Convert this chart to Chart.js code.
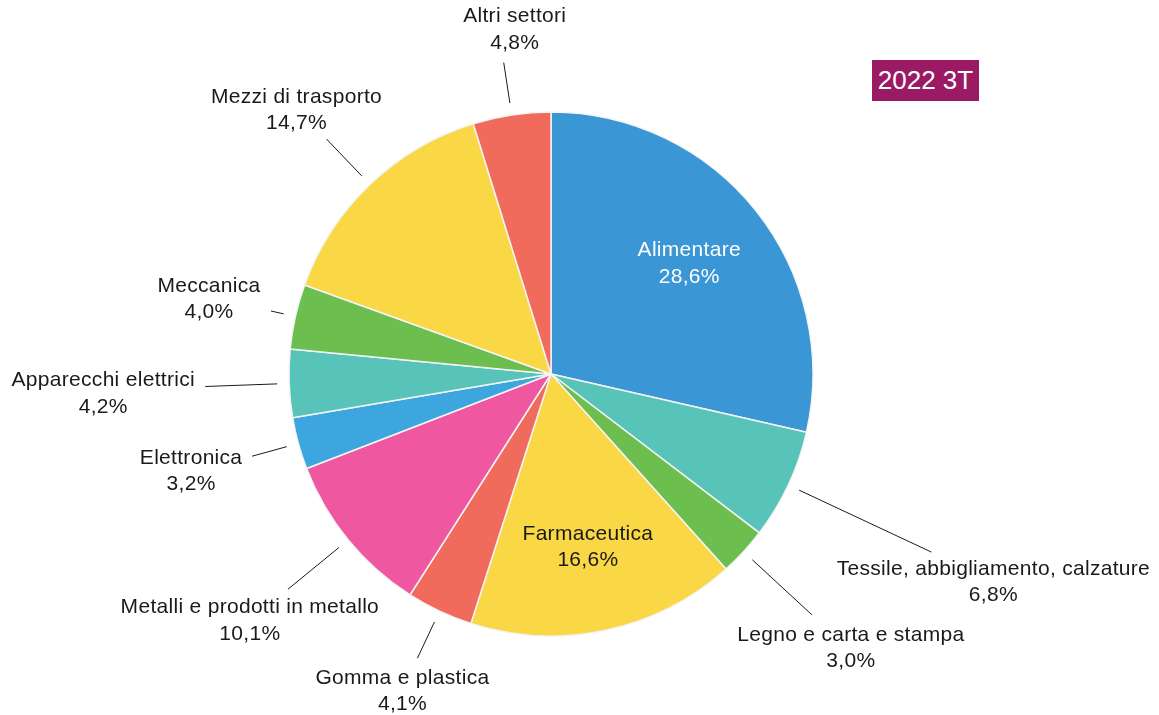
<!DOCTYPE html>
<html>
<head>
<meta charset="utf-8">
<script src="https://cdn.jsdelivr.net/npm/chart.js@4"></script>
<style>
  html, body { margin: 0; padding: 0; background: #fff; }
  #wrap { position: relative; width: 1159px; height: 715px; }
  #badge {
    position: absolute; left: 872px; top: 60px; width: 107px; height: 41px;
    background: #9a1b63; color: #fff; font: 26px "Liberation Sans", Arial, sans-serif;
    line-height: 41px; text-align: center;
  }
</style>
</head>
<body>
<div id="wrap">
  <canvas id="chart" width="1159" height="715"></canvas>
  <div id="badge">2022 3T</div>
</div>
<script>
// Data
const sectors = ['Alimentare', 'Tessile, abbigliamento, calzature', 'Legno e carta e stampa', 'Farmaceutica',
  'Gomma e plastica', 'Metalli e prodotti in metallo', 'Elettronica', 'Apparecchi elettrici',
  'Meccanica', 'Mezzi di trasporto', 'Altri settori'];
const shares = [28.6, 6.8, 3.0, 16.6, 4.1, 10.1, 3.2, 4.2, 4.0, 14.7, 4.8];
const colors = ['#3a96d4', '#58c4b9', '#6cbf4e', '#f9d745', '#f06b5b', '#ef58a0', '#3ea6de', '#58c4b9',
  '#6cbf4e', '#f9d745', '#f06b5b'];

// Label layout: inside slice, or leader line length + text offset from the line end
const labelLayout = [
  {inside: true, color: '#ffffff'},
  {len: 146, dx: 62, dy: 17},
  {len: 81, dx: 39, dy: 20},
  {inside: true, color: '#1a1a1a'},
  {len: 40, dx: -15, dy: 20},
  {len: 66, dx: -38, dy: 18},
  {len: 36, dx: -61, dy: 2},
  {len: 72, dx: -102, dy: -6},
  {len: 13, dx: -62, dy: -25},
  {len: 51, dx: -30, dy: -42},
  {len: 41, dx: 11, dy: -46}
];

const FONT = '21px "Liberation Sans", Arial, sans-serif';
const LINE_H = 26.5;
const fmt = v => v.toFixed(1).replace('.', ',') + '%';

const pieLabels = {
  id: 'pieLabels',
  afterDatasetsDraw(chart){
    const ctx = chart.ctx;
    const arcs = chart.getDatasetMeta(0).data;
    ctx.save();
    ctx.font = FONT;
    ctx.letterSpacing = '0.3px';
    ctx.textAlign = 'center';
    ctx.textBaseline = 'middle';
    arcs.forEach((arc, i) => {
      const {x, y, startAngle, endAngle, outerRadius} = arc.getProps(['x','y','startAngle','endAngle','outerRadius'], true);
      const mid = (startAngle + endAngle) / 2;
      const lay = labelLayout[i];
      const txt = [sectors[i], fmt(shares[i])];
      if(lay.inside){
        const r = outerRadius * 0.675;
        const cx = x + Math.cos(mid) * r, cy = y + Math.sin(mid) * r;
        ctx.fillStyle = lay.color;
        ctx.fillText(txt[0], cx, cy - LINE_H / 2);
        ctx.fillText(txt[1], cx, cy + LINE_H / 2);
        return;
      }
      const r0 = outerRadius + 12, r1 = r0 + lay.len;
      const x0 = x + Math.cos(mid) * r0, y0 = y + Math.sin(mid) * r0;
      const x1 = x + Math.cos(mid) * r1, y1 = y + Math.sin(mid) * r1;
      ctx.strokeStyle = '#1a1a1a';
      ctx.lineWidth = 1;
      ctx.beginPath();
      ctx.moveTo(x0, y0);
      ctx.lineTo(x1, y1);
      ctx.stroke();
      ctx.fillStyle = '#1a1a1a';
      ctx.fillText(txt[0], x1 + lay.dx, y1 + lay.dy);
      ctx.fillText(txt[1], x1 + lay.dx, y1 + lay.dy + LINE_H);
    });
    ctx.restore();
  }
};

new Chart(document.getElementById('chart').getContext('2d'), {
  type: 'pie',
  data: {
    labels: sectors,
    datasets: [{data: shares, backgroundColor: colors, borderColor: '#f4f4f4', borderWidth: 1.5}]
  },
  options: {
    responsive: false,
    animation: false,
    radius: 262,
    layout: {padding: {left: 289, right: 346, top: 112, bottom: 79}},
    plugins: {legend: {display: false}, tooltip: {enabled: false}}
  },
  plugins: [pieLabels]
});
</script>
</body>
</html>
